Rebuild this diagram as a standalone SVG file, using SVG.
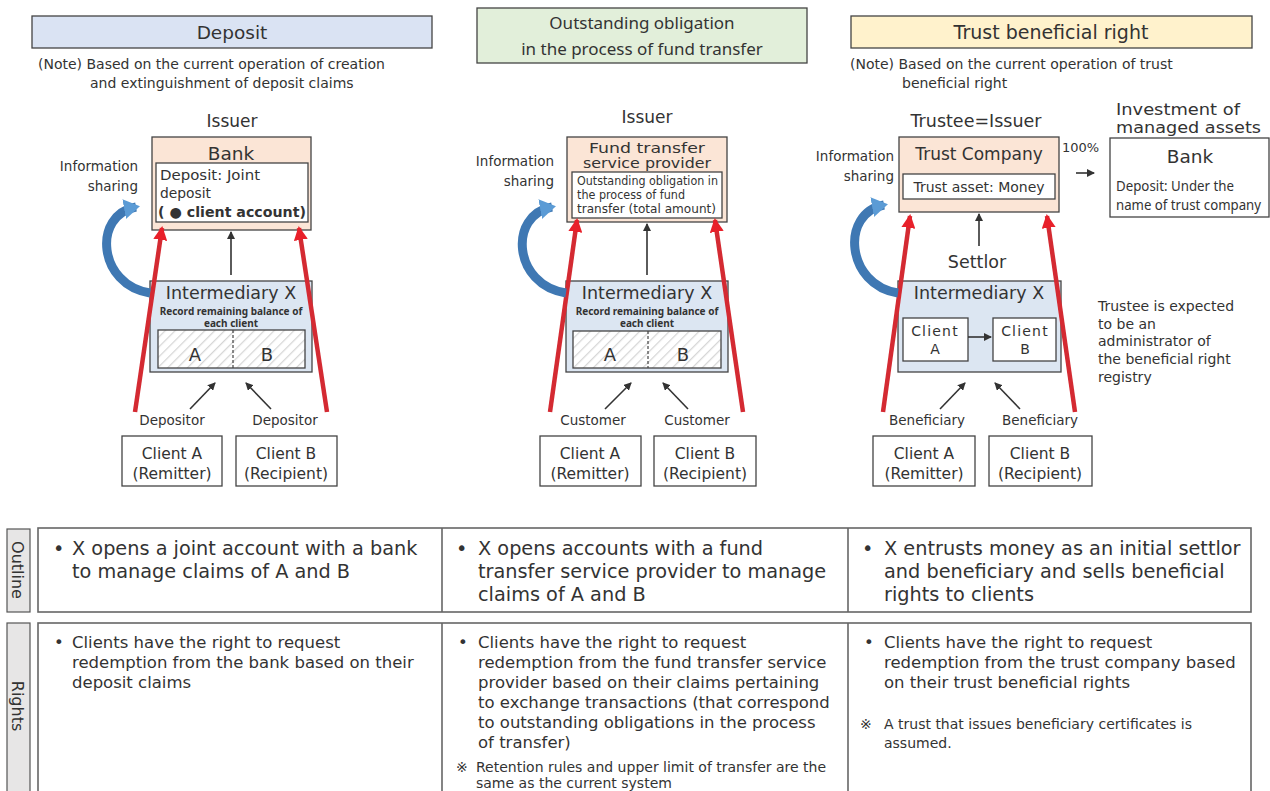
<svg xmlns="http://www.w3.org/2000/svg" width="1270" height="791" viewBox="0 0 1270 791">
<defs>
<style>
text{font-family:"DejaVu Sans","Noto Sans",sans-serif;fill:#333}
.n{font-family:"Noto Sans","DejaVu Sans",sans-serif}
.hdr{stroke:#444;stroke-width:1.3}
.box{stroke:#444;stroke-width:1.3}
.peach{fill:#fbe5d6}
.lblue{fill:#dce6f2}
.white{fill:#fff}
.mid{text-anchor:middle}
.end{text-anchor:end}
.red{stroke:#d42a32;stroke-width:4.5;fill:none}
.blk{stroke:#333;stroke-width:1.6;fill:none}
.blue{stroke:#3f78b3;stroke-width:9;fill:none}
.tbl{fill:#fff;stroke:#666;stroke-width:1.6}
.side{fill:#e7e6e6;stroke:#555;stroke-width:1.2}
</style>
<pattern id="hatch" width="7" height="7" patternUnits="userSpaceOnUse" patternTransform="rotate(45)">
<rect width="7" height="7" fill="#fff"/>
<line x1="0" y1="0" x2="0" y2="7" stroke="#d6d6d6" stroke-width="2.5"/>
</pattern>
<marker id="ab" markerWidth="8" markerHeight="8" refX="7" refY="4" orient="auto" markerUnits="userSpaceOnUse">
<path d="M0,0 L8,4 L0,8 Z" fill="#333"/>
</marker>
<marker id="ar" markerWidth="14" markerHeight="14" refX="12" refY="7" orient="auto" markerUnits="userSpaceOnUse">
<path d="M0,0 L14,7 L0,14 Z" fill="#e8202a"/>
</marker>
<marker id="abl" markerWidth="16" markerHeight="20" refX="12" refY="10" orient="auto" markerUnits="userSpaceOnUse">
<path d="M0,0 L16,10 L0,20 Z" fill="#5b9bd5"/>
</marker>
</defs>

<!-- Column 1: Deposit -->
<g id="hdr-deposit">
<rect x="32" y="16" width="400" height="32" fill="#dae3f3" class="hdr"/>
<text x="232" y="39" class="mid" font-size="18.5">Deposit</text>
</g>
<g id="note-deposit" font-size="14">
<text x="38" y="69">(Note) Based on the current operation of creation</text>
<text x="90" y="88">and extinguishment of deposit claims</text>
</g>
<g id="issuer-1"><text x="232" y="127" class="mid" font-size="17">Issuer</text></g>
<g id="bank-1">
<rect x="152" y="137" width="159" height="93" class="box peach"/>
<text x="231" y="160" class="mid" font-size="18.5">Bank</text>
<rect x="156" y="163" width="152" height="59" class="box white"/>
<text x="160" y="180" font-size="14" textLength="100" lengthAdjust="spacingAndGlyphs">Deposit: Joint</text>
<text x="160" y="198" font-size="14" textLength="51" lengthAdjust="spacingAndGlyphs">deposit</text>
<text x="158" y="217" font-size="14" font-weight="bold" textLength="148" lengthAdjust="spacingAndGlyphs">( ● client account)</text>
</g>
<g id="info-1" font-size="13.5">
<text x="138" y="171" class="end">Information</text>
<text x="138" y="191" class="end">sharing</text>
</g>
<g id="interm-1">
<rect x="150" y="281" width="162" height="91" class="box lblue"/>
<text x="231" y="299" class="mid" font-size="17.5">Intermediary X</text>
<text x="231" y="315" class="mid n" font-size="10" font-weight="bold">Record remaining  balance of</text>
<text x="231" y="327" class="mid n" font-size="10" font-weight="bold">each client</text>
<rect x="158" y="330" width="147" height="38" fill="url(#hatch)" stroke="#444" stroke-width="1.3"/>
<line x1="233" y1="330" x2="233" y2="368" stroke="#444" stroke-width="1.2" stroke-dasharray="3,2"/>
<text x="195" y="361" class="mid" font-size="18">A</text>
<text x="267" y="361" class="mid" font-size="18">B</text>
</g>
<g id="labels-1" font-size="13.5">
<text x="172" y="425" class="mid">Depositor</text>
<text x="285" y="425" class="mid">Depositor</text>
</g>
<g id="clientA-1">
<rect x="122" y="436" width="100" height="50" class="box white"/>
<text x="172" y="459" class="mid" font-size="15.5">Client A</text>
<text x="172" y="479" class="mid" font-size="15.5">(Remitter)</text>
</g>
<g id="clientB-1">
<rect x="236" y="436" width="101" height="50" class="box white"/>
<text x="286" y="459" class="mid" font-size="15.5">Client B</text>
<text x="286" y="479" class="mid" font-size="15.5">(Recipient)</text>
</g>

<!-- Column 2 -->
<g id="hdr-fund">
<rect x="477" y="8" width="330" height="55" fill="#e2efda" class="hdr"/>
<text x="642" y="29" class="mid n" font-size="17">Outstanding obligation</text>
<text x="642" y="55" class="mid n" font-size="17">in the process of fund transfer</text>
</g>
<g id="issuer-2"><text x="647" y="123" class="mid" font-size="17">Issuer</text></g>
<g id="ftsp">
<rect x="567" y="137" width="160" height="85" class="box peach"/>
<text x="647" y="153" class="mid" font-size="14.5" textLength="116" lengthAdjust="spacingAndGlyphs">Fund transfer</text>
<text x="647" y="168" class="mid" font-size="14.5" textLength="128" lengthAdjust="spacingAndGlyphs">service provider</text>
<rect x="572" y="172" width="150" height="46" class="box white"/>
<text x="577" y="185" font-size="11.5" textLength="141" lengthAdjust="spacingAndGlyphs">Outstanding obligation in</text>
<text x="577" y="199" font-size="11.5" textLength="108" lengthAdjust="spacingAndGlyphs">the process of fund</text>
<text x="577" y="213" font-size="11.5" textLength="139" lengthAdjust="spacingAndGlyphs">transfer (total amount)</text>
</g>
<g id="info-2" font-size="13.5">
<text x="554" y="166" class="end">Information</text>
<text x="554" y="186" class="end">sharing</text>
</g>
<g id="interm-2">
<rect x="566" y="281" width="162" height="91" class="box lblue"/>
<text x="647" y="299" class="mid" font-size="17.5">Intermediary X</text>
<text x="647" y="315" class="mid n" font-size="10" font-weight="bold">Record remaining  balance of</text>
<text x="647" y="327" class="mid n" font-size="10" font-weight="bold">each client</text>
<rect x="573" y="331" width="148" height="37" fill="url(#hatch)" stroke="#444" stroke-width="1.3"/>
<line x1="648" y1="331" x2="648" y2="368" stroke="#444" stroke-width="1.2" stroke-dasharray="3,2"/>
<text x="610" y="361" class="mid" font-size="18">A</text>
<text x="683" y="361" class="mid" font-size="18">B</text>
</g>
<g id="labels-2" font-size="13.5">
<text x="593" y="425" class="mid">Customer</text>
<text x="697" y="425" class="mid">Customer</text>
</g>
<g id="clientA-2">
<rect x="540" y="436" width="101" height="50" class="box white"/>
<text x="590" y="459" class="mid" font-size="15.5">Client A</text>
<text x="590" y="479" class="mid" font-size="15.5">(Remitter)</text>
</g>
<g id="clientB-2">
<rect x="654" y="436" width="102" height="50" class="box white"/>
<text x="705" y="459" class="mid" font-size="15.5">Client B</text>
<text x="705" y="479" class="mid" font-size="15.5">(Recipient)</text>
</g>

<!-- Column 3 -->
<g id="hdr-trust">
<rect x="851" y="16" width="401" height="32" fill="#fff2cc" class="hdr"/>
<text x="1051" y="39" class="mid" font-size="19">Trust beneficial right</text>
</g>
<g id="note-trust" font-size="14">
<text x="850" y="69">(Note) Based on the current operation of trust</text>
<text x="902" y="88">beneficial right</text>
</g>
<g id="issuer-3"><text x="976" y="127" class="mid" font-size="17.5">Trustee=Issuer</text></g>
<g id="trustco">
<rect x="899" y="137" width="160" height="75" class="box peach"/>
<text x="979" y="160" class="mid" font-size="17">Trust Company</text>
<rect x="903" y="174" width="152" height="25" class="box white"/>
<text x="979" y="192" class="mid" font-size="14">Trust asset: Money</text>
</g>
<g id="invest-label" font-size="15.5">
<text x="1116" y="115" textLength="124" lengthAdjust="spacingAndGlyphs">Investment of</text>
<text x="1116" y="133" textLength="145" lengthAdjust="spacingAndGlyphs">managed assets</text>
</g>
<g id="pct"><text x="1062" y="152" font-size="13">100%</text></g>
<g id="bank-3">
<rect x="1110" y="138" width="159" height="79" class="box white"/>
<text x="1190" y="163" class="mid" font-size="18.5">Bank</text>
<text x="1116" y="191" font-size="13.5" class="n" textLength="118" lengthAdjust="spacingAndGlyphs">Deposit: Under the</text>
<text x="1116" y="210" font-size="13.5" class="n" textLength="145" lengthAdjust="spacingAndGlyphs">name of trust company</text>
</g>
<g id="info-3" font-size="13.5">
<text x="894" y="161" class="end">Information</text>
<text x="894" y="181" class="end">sharing</text>
</g>
<g id="settlor"><text x="977" y="268" class="mid" font-size="17.5">Settlor</text></g>
<g id="interm-3">
<rect x="898" y="281" width="163" height="91" class="box lblue"/>
<text x="979" y="299" class="mid" font-size="17.5">Intermediary X</text>
<rect x="903" y="318" width="65" height="43" class="box white"/>
<text x="935" y="336" class="mid" font-size="14" letter-spacing="1.2">Client</text>
<text x="935" y="354" class="mid" font-size="14">A</text>
<rect x="993" y="318" width="63" height="43" class="box white"/>
<text x="1025" y="336" class="mid" font-size="14" letter-spacing="1.2">Client</text>
<text x="1025" y="354" class="mid" font-size="14">B</text>
</g>
<g id="trustee-note" font-size="14">
<text x="1098" y="311">Trustee is expected</text>
<text x="1098" y="329">to be an</text>
<text x="1098" y="346">administrator of</text>
<text x="1098" y="364">the beneficial right</text>
<text x="1098" y="382">registry</text>
</g>
<g id="labels-3" font-size="13.5">
<text x="927" y="425" class="mid">Beneficiary</text>
<text x="1040" y="425" class="mid">Beneficiary</text>
</g>
<g id="clientA-3">
<rect x="873" y="436" width="102" height="50" class="box white"/>
<text x="924" y="459" class="mid" font-size="15.5">Client A</text>
<text x="924" y="479" class="mid" font-size="15.5">(Remitter)</text>
</g>
<g id="clientB-3">
<rect x="989" y="436" width="103" height="50" class="box white"/>
<text x="1040" y="459" class="mid" font-size="15.5">Client B</text>
<text x="1040" y="479" class="mid" font-size="15.5">(Recipient)</text>
</g>

<!-- Connectors -->
<g id="connectors">
<line x1="231" y1="275" x2="231" y2="232" class="blk" marker-end="url(#ab)"/>
<line x1="190" y1="409" x2="215" y2="383" class="blk" marker-end="url(#ab)"/>
<line x1="271" y1="409" x2="246" y2="383" class="blk" marker-end="url(#ab)"/>
<line x1="135" y1="412" x2="162" y2="228" class="red" marker-end="url(#ar)"/>
<line x1="327" y1="412" x2="299" y2="228" class="red" marker-end="url(#ar)"/>
<path d="M150,293 C98,285 92,215 136,207" class="blue" marker-end="url(#abl)"/>

<line x1="647" y1="275" x2="647" y2="224" class="blk" marker-end="url(#ab)"/>
<line x1="605" y1="409" x2="631" y2="383" class="blk" marker-end="url(#ab)"/>
<line x1="688" y1="409" x2="663" y2="383" class="blk" marker-end="url(#ab)"/>
<line x1="550" y1="412" x2="577" y2="220" class="red" marker-end="url(#ar)"/>
<line x1="743" y1="412" x2="715" y2="220" class="red" marker-end="url(#ar)"/>
<path d="M566,293 C513,285 508,215 552,207" class="blue" marker-end="url(#abl)"/>

<line x1="979" y1="246" x2="979" y2="214" class="blk" marker-end="url(#ab)"/>
<line x1="968" y1="337" x2="991" y2="337" class="blk" marker-end="url(#ab)"/>
<line x1="1076" y1="173" x2="1094" y2="173" class="blk" marker-end="url(#ab)"/>
<line x1="940" y1="409" x2="965" y2="383" class="blk" marker-end="url(#ab)"/>
<line x1="1020" y1="409" x2="995" y2="383" class="blk" marker-end="url(#ab)"/>
<line x1="883" y1="412" x2="910" y2="216" class="red" marker-end="url(#ar)"/>
<line x1="1075" y1="412" x2="1047" y2="216" class="red" marker-end="url(#ar)"/>
<path d="M898,293 C846,285 840,213 884,205" class="blue" marker-end="url(#abl)"/>
</g>

<!-- Table -->
<g id="outline-row">
<rect x="7" y="529" width="23" height="83" class="side"/>
<text transform="translate(12,570) rotate(90)" class="mid" font-size="16">Outline</text>
<rect x="38" y="528" width="1213" height="84" class="tbl"/>
<line x1="442" y1="528" x2="442" y2="612" stroke="#666" stroke-width="1.6"/>
<line x1="848" y1="528" x2="848" y2="612" stroke="#666" stroke-width="1.6"/>
<g font-size="19.3">
<text x="53" y="555">•</text>
<text x="72" y="555">X opens a joint account with a bank</text>
<text x="72" y="578">to manage claims of A and B</text>
<text x="456" y="555">•</text>
<text x="478" y="555">X opens accounts with a fund</text>
<text x="478" y="578">transfer service provider to manage</text>
<text x="478" y="601">claims of A and B</text>
<text x="862" y="555">•</text>
<text x="884" y="555">X entrusts money as an initial settlor</text>
<text x="884" y="578">and beneficiary and sells beneficial</text>
<text x="884" y="601">rights to clients</text>
</g>
</g>
<g id="rights-row">
<rect x="7" y="623" width="23" height="175" class="side"/>
<text transform="translate(12,706) rotate(90)" class="mid" font-size="16">Rights</text>
<rect x="38" y="623" width="1213" height="180" class="tbl"/>
<line x1="442" y1="623" x2="442" y2="791" stroke="#666" stroke-width="1.6"/>
<line x1="848" y1="623" x2="848" y2="791" stroke="#666" stroke-width="1.6"/>
<g font-size="16.5">
<text x="54" y="648">•</text>
<text x="72" y="648">Clients have the right to request</text>
<text x="72" y="668">redemption from the bank based on their</text>
<text x="72" y="688">deposit claims</text>
<text x="458" y="648">•</text>
<text x="478" y="648">Clients have the right to request</text>
<text x="478" y="668">redemption from the fund transfer service</text>
<text x="478" y="688">provider based on their claims pertaining</text>
<text x="478" y="708">to exchange transactions (that correspond</text>
<text x="478" y="728">to outstanding obligations in the process</text>
<text x="478" y="748">of transfer)</text>
<text x="864" y="648">•</text>
<text x="884" y="648">Clients have the right to request</text>
<text x="884" y="668">redemption from the trust company based</text>
<text x="884" y="688">on their trust beneficial rights</text>
</g>
<g font-size="14">
<text x="456" y="772">※</text>
<text x="476" y="772">Retention rules and upper limit of transfer are the</text>
<text x="476" y="788">same as the current system</text>
<text x="860" y="729">※</text>
<text x="884" y="729">A trust that issues beneficiary certificates is</text>
<text x="884" y="748">assumed.</text>
</g>
</g>
</svg>
